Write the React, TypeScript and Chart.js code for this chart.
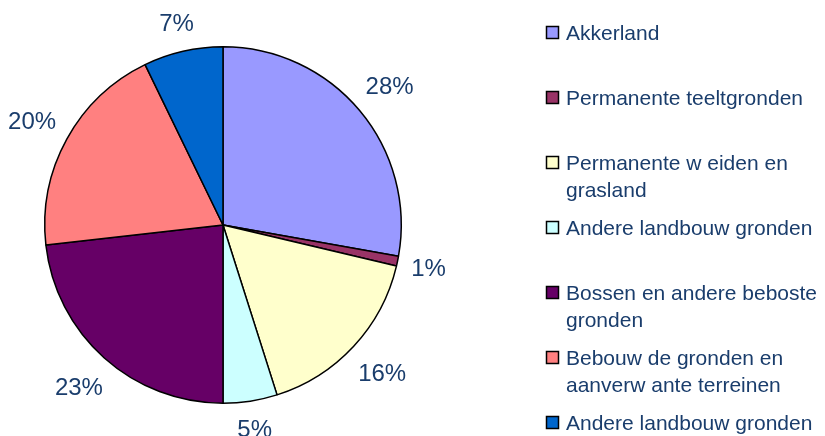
import React, { useEffect, useRef } from "react";
import { Chart, registerables } from "chart.js";

Chart.register(...registerables);

const categories: string[][] = [
  ["Akkerland"],
  ["Permanente teeltgronden"],
  ["Permanente w eiden en", "grasland"],
  ["Andere landbouw gronden"],
  ["Bossen en andere beboste", "gronden"],
  ["Bebouw de gronden en", "aanverw ante terreinen"],
  ["Andere landbouw gronden"],
];
const values: number[] = [27.8, 0.9, 16.4, 4.9, 23.2, 19.6, 7.2];
const colors: string[] = ["#9999FF", "#993366", "#FFFFCC", "#CCFFFF", "#660066", "#FF8080", "#0066CC"];

const TEXT_COLOR = "#1A3D6C";
const FONT = '"Liberation Sans", Arial, sans-serif';

const labelPlugin = {
  id: "pctLabels",
  afterDatasetsDraw(chart: any) {
    const ctx = chart.ctx;
    const meta = chart.getDatasetMeta(0);
    const data = chart.data.datasets[0].data as number[];
    const total = data.reduce((a, b) => a + b, 0);
    ctx.save();
    ctx.font = `24px ${FONT}`;
    ctx.fillStyle = TEXT_COLOR;
    ctx.textAlign = "center";
    ctx.textBaseline = "alphabetic";
    meta.data.forEach((arc: any, i: number) => {
      const { x, y, startAngle, endAngle, outerRadius } = arc.getProps(
        ["x", "y", "startAngle", "endAngle", "outerRadius"],
        true
      );
      const mid = (startAngle + endAngle) / 2;
      const dx = Math.cos(mid);
      const dy = Math.sin(mid);
      const txt = Math.round((data[i] / total) * 100) + "%";
      const w = ctx.measureText(txt).width;
      const h = 27;
      const dist = outerRadius + 12 + Math.abs(dx) * (w / 2) + Math.abs(dy) * (h / 2);
      const cx = x + dx * dist;
      const cy = y + dy * dist;
      ctx.fillText(txt, cx, cy + 8.5);
    });
    ctx.restore();
  },
};

const legendPlugin = {
  id: "customLegend",
  afterDraw(chart: any) {
    const ctx = chart.ctx;
    const labels = chart.data.labels as string[][];
    const bg = chart.data.datasets[0].backgroundColor as string[];
    ctx.save();
    ctx.font = `21px ${FONT}`;
    ctx.textAlign = "left";
    ctx.textBaseline = "alphabetic";
    labels.forEach((lines, i) => {
      const baseline = 40 + i * 65;
      const sq = 12;
      const sx = 546.5;
      const sy = baseline - 7.5 - sq / 2;
      ctx.fillStyle = bg[i];
      ctx.fillRect(sx, sy, sq, sq);
      ctx.lineWidth = 1.5;
      ctx.strokeStyle = "#000";
      ctx.strokeRect(sx, sy, sq, sq);
      ctx.fillStyle = TEXT_COLOR;
      lines.forEach((ln, j) => {
        ctx.fillText(ln, 566, baseline + j * 27);
      });
    });
    ctx.restore();
  },
};

export default function App() {
  const ref = useRef<HTMLCanvasElement>(null);
  useEffect(() => {
    if (!ref.current) return;
    const chart = new Chart(ref.current, {
      type: "pie",
      data: {
        labels: categories,
        datasets: [
          {
            data: values,
            backgroundColor: colors,
            borderColor: "#000000",
            borderWidth: 1.5,
          },
        ],
      },
      options: {
        animation: false,
        responsive: false,
        maintainAspectRatio: false,
        layout: { padding: { left: 44, top: 46, right: 423, bottom: 32 } },
        plugins: {
          legend: { display: false },
          tooltip: { enabled: false },
        },
      },
      plugins: [labelPlugin, legendPlugin],
    });
    return () => chart.destroy();
  }, []);
  return (
    <div style={{ position: "fixed", left: 0, top: 0, width: 825, height: 436, background: "#fff" }}>
      <canvas ref={ref} width={825} height={436} style={{ display: "block" }} />
    </div>
  );
}
